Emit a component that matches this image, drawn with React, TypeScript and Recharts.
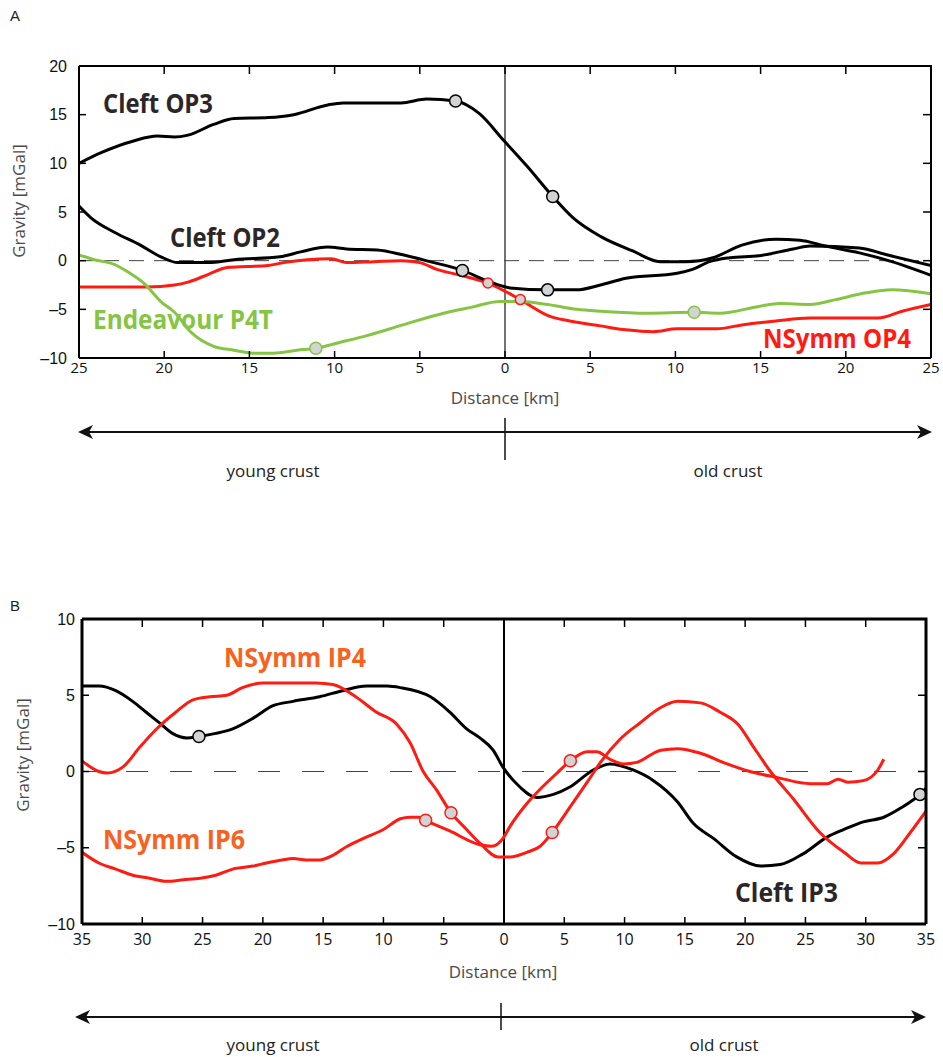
import React from "react";
import { ComposedChart, Line, XAxis, YAxis, ReferenceLine } from "recharts";

// panel A: distance in km (negative = young side, shown as positive on axis)
const A_X_TICKS = [-25, -20, -15, -10, -5, 0, 5, 10, 15, 20, 25];
const A_Y_TICKS = [-10, -5, 0, 5, 10, 15, 20];

const OP3_X = [-25, -23.7, -21.8, -20.4, -19.4, -18.6, -17.1, -15.9, -13.9, -12.4, -10.4, -9.5, -6.1, -4.6, -2.9, -1.5, -0.1, 1.3, 2.8, 4.0, 5.6, 7.5, 9.1, 10.6, 12.2, 13.9, 15.9, 17.3, 18.8, 20.8, 22.7, 25];
const OP3_Y = [10.0, 11.1, 12.3, 12.8, 12.7, 12.9, 14.0, 14.6, 14.7, 15.0, 16.0, 16.2, 16.2, 16.6, 16.4, 15.1, 12.4, 9.7, 6.6, 4.4, 2.5, 1.0, -0.1, -0.1, 0.3, 1.6, 2.2, 2.1, 1.5, 0.8, -0.1, -1.5];

const OP2_X = [-25, -24.3, -22.9, -21.4, -20.2, -19.2, -17.4, -15.9, -13.2, -12.0, -10.4, -9.3, -7.5, -6.0, -4.4, -2.5, -1.0, 0.3, 2.5, 4.2, 5.6, 7.1, 10.1, 11.0, 12.0, 13.2, 14.9, 16.9, 17.9, 20.8, 22.4, 25];
const OP2_Y = [5.6, 4.4, 2.9, 1.6, 0.4, -0.2, -0.2, 0.1, 0.4, 0.9, 1.4, 1.2, 1.1, 0.6, -0.1, -1.0, -2.1, -2.8, -3.0, -3.0, -2.5, -1.8, -1.3, -0.9, -0.1, 0.3, 0.5, 1.2, 1.5, 1.3, 0.6, -0.5];

const OP4_X = [-25, -21.0, -19.4, -18.6, -17.4, -16.3, -15.1, -13.9, -13.0, -11.6, -10.2, -9.3, -7.7, -6.1, -5.0, -4.0, -2.6, -1.0, 0.9, 2.6, 3.8, 5.6, 7.1, 8.7, 10.1, 12.4, 13.9, 15.9, 17.9, 21.9, 23.3, 25];
const OP4_Y = [-2.7, -2.7, -2.5, -2.2, -1.4, -0.7, -0.6, -0.5, -0.2, 0.1, 0.2, -0.2, -0.1, 0.0, -0.2, -0.9, -1.5, -2.3, -4.0, -5.7, -6.2, -6.7, -7.1, -7.3, -7.0, -7.0, -6.6, -6.2, -5.9, -5.9, -5.2, -4.5];

const P4T_X = [-25, -24.1, -22.9, -22.0, -21.2, -20.2, -19.4, -18.4, -17.1, -15.9, -14.8, -13.6, -12.2, -11.1, -9.7, -8.1, -6.0, -3.6, -2.0, -0.3, 0.9, 2.5, 4.2, 5.7, 8.3, 11.1, 12.6, 14.9, 16.1, 17.9, 19.4, 21.2, 22.7, 25];
const P4T_Y = [0.6, 0.1, -0.4, -1.3, -2.3, -4.2, -5.3, -7.4, -8.8, -9.2, -9.5, -9.5, -9.2, -9.0, -8.4, -7.7, -6.6, -5.4, -4.8, -4.2, -4.2, -4.5, -5.0, -5.2, -5.4, -5.3, -5.4, -4.7, -4.4, -4.5, -4.0, -3.3, -3.0, -3.4];

const OP3_MARK_X = [-2.9, 2.8];
const OP3_MARK_Y = [16.4, 6.6];
const OP2_MARK_X = [-2.5, 2.5];
const OP2_MARK_Y = [-1.0, -3.0];
const OP4_MARK_X = [-1.0, 0.9];
const OP4_MARK_Y = [-2.3, -4.0];
const P4T_MARK_X = [-11.1, 11.1];
const P4T_MARK_Y = [-9.0, -5.3];

// panel B
const B_X_TICKS = [-35, -30, -25, -20, -15, -10, -5, 0, 5, 10, 15, 20, 25, 30, 35];
const B_Y_TICKS = [-10, -5, 0, 5, 10];

const IP3_X = [-35, -33.6, -32.2, -30.8, -29.7, -28.6, -27.5, -26.3, -25.3, -23.9, -22.5, -20.8, -19.2, -17.5, -15.3, -13.4, -11.4, -9.7, -8.6, -6.1, -4.5, -3.1, -2.0, -0.9, -0.1, 1.3, 2.7, 4.1, 5.5, 7.4, 8.8, 10.7, 12.4, 14.4, 15.7, 17.4, 19.3, 21.3, 22.9, 24.8, 26.8, 28.2, 29.8, 31.5, 32.9, 34.5, 35];
const IP3_Y = [5.6, 5.6, 5.3, 4.6, 3.9, 3.2, 2.5, 2.2, 2.3, 2.5, 2.8, 3.5, 4.3, 4.6, 4.9, 5.3, 5.6, 5.6, 5.5, 4.9, 3.9, 2.8, 2.2, 1.4, 0.3, -1.0, -1.7, -1.5, -1.0, 0.1, 0.5, 0.1, -0.6, -2.0, -3.4, -4.4, -5.6, -6.2, -6.1, -5.4, -4.3, -3.8, -3.3, -3.0, -2.4, -1.5, -1.1];

const IP4_X = [-35, -33.6, -32.9, -31.6, -30.2, -28.8, -27.2, -25.8, -24.4, -23.0, -21.7, -20.0, -15.6, -14.2, -12.3, -10.6, -8.9, -7.8, -6.7, -5.6, -4.4, -3.1, -2.0, -0.5, 0.5, 1.9, 3.0, 4.0, 5.5, 6.9, 8.0, 9.6, 11.3, 13.0, 14.4, 16.3, 17.9, 19.4, 20.7, 22.1, 24.0, 26.2, 28.2, 29.6, 31.0, 32.3, 33.7, 35];
const IP4_Y = [0.7, 0.0, -0.1, 0.3, 1.6, 2.8, 3.9, 4.7, 4.9, 5.0, 5.5, 5.8, 5.8, 5.7, 4.9, 3.9, 3.1, 1.9, 0.0, -1.2, -2.7, -3.8, -4.7, -5.6, -5.6, -5.3, -4.9, -4.0, -2.3, -0.7, 0.6, 2.1, 3.2, 4.2, 4.6, 4.5, 3.9, 3.1, 1.6, 0.0, -1.8, -4.0, -5.3, -6.0, -6.0, -5.4, -4.0, -2.6];

const IP6_X = [-35, -33.6, -32.2, -30.8, -29.4, -28.0, -26.6, -25.2, -23.9, -22.5, -20.8, -19.7, -18.4, -17.5, -16.4, -15.3, -14.2, -13.0, -11.7, -10.0, -8.6, -7.8, -7.0, -6.5, -4.5, -2.0, -1.0, -0.1, 0.5, 1.9, 3.2, 4.4, 5.5, 6.9, 7.7, 8.8, 9.9, 11.0, 13.0, 14.4, 16.3, 18.5, 20.4, 22.7, 25.4, 26.8, 27.7, 28.5, 29.8, 31.0, 31.5];
const IP6_Y = [-5.3, -6.0, -6.4, -6.8, -7.0, -7.2, -7.1, -7.0, -6.8, -6.4, -6.2, -6.0, -5.8, -5.7, -5.8, -5.8, -5.5, -4.9, -4.4, -3.8, -3.1, -3.0, -3.0, -3.2, -3.9, -4.8, -4.9, -4.4, -3.6, -2.1, -1.0, -0.1, 0.7, 1.3, 1.3, 0.8, 0.5, 0.6, 1.4, 1.5, 1.2, 0.5, 0.0, -0.4, -0.8, -0.8, -0.5, -0.7, -0.6, 0.1, 0.8];

const IP3_MARK_X = [-25.3, 34.5];
const IP3_MARK_Y = [2.3, -1.5];
const IP4_MARK_X = [-4.4, 4.0];
const IP4_MARK_Y = [-2.7, -4.0];
const IP6_MARK_X = [-6.5, 5.5];
const IP6_MARK_Y = [-3.2, 0.7];

const BLACK = "#000000";
const RED = "#ff1a12";
const GREEN = "#86c544";
const DOT_FILL = "#d1d3d4";
const LABEL_DARK = "#2b2627";
const LABEL_ORANGE = "#f7621f";

// plot boxes (page pixels); chart margins are derived from these
const A_TOP = 0;
const A_H = 420;
const A_BOX = { left: 79, right: 931, top: 66, bottom: 358 };
const B_TOP = 560;
const B_H = 440;
const B_BOX = { left: 82, right: 926, top: 619, bottom: 924 };
const Y_AXIS_W = 44;

const zip = (xs: number[], ys: number[]) => xs.map((x, i) => ({ x, y: ys[i] }));
const absTick = (v: number) => String(Math.abs(v));
const dashTick = (v: number) => (v < 0 ? `\u2013${Math.abs(v)}` : String(v));

const tickFont = { fontSize: 16, fill: "#111", fontFamily: "Liberation Sans" };

function PanelA() {
  const xh = 30;
  return (
    <ComposedChart
      width={943}
      height={A_H}
      margin={{ top: A_BOX.top - A_TOP, right: 943 - A_BOX.right, left: A_BOX.left - Y_AXIS_W, bottom: A_TOP + A_H - A_BOX.bottom - xh }}
    >
      <XAxis
        dataKey="x"
        type="number"
        domain={[-25, 25]}
        allowDataOverflow
        ticks={A_X_TICKS}
        interval={0}
        tickFormatter={absTick}
        tickSize={-7}
        tickMargin={11}
        height={xh}
        tick={{ ...tickFont, fontFamily: "Open Sans", fontSize: 15 }}
        axisLine={{ stroke: BLACK, strokeWidth: 2 }}
        tickLine={{ stroke: BLACK, strokeWidth: 1.5 }}
      />
      <YAxis
        type="number"
        domain={[-10, 20]}
        allowDataOverflow
        ticks={A_Y_TICKS}
        interval={0}
        tickFormatter={dashTick}
        tickSize={-7}
        tickMargin={19}
        width={Y_AXIS_W}
        tick={tickFont}
        axisLine={{ stroke: BLACK, strokeWidth: 2 }}
        tickLine={{ stroke: BLACK, strokeWidth: 1.5 }}
      />
      <ReferenceLine y={0} stroke="#444" strokeWidth={1} strokeDasharray="15 10" />
      <ReferenceLine x={0} stroke="#444" strokeWidth={1.5} />
      <Line data={zip(OP4_X, OP4_Y)} dataKey="y" type="monotone" stroke={RED} strokeWidth={3} dot={false} activeDot={false} isAnimationActive={false} />
      <Line data={zip(P4T_X, P4T_Y)} dataKey="y" type="monotone" stroke={GREEN} strokeWidth={3} dot={false} activeDot={false} isAnimationActive={false} />
      <Line data={zip(OP2_X, OP2_Y)} dataKey="y" type="monotone" stroke={BLACK} strokeWidth={3} dot={false} activeDot={false} isAnimationActive={false} />
      <Line data={zip(OP3_X, OP3_Y)} dataKey="y" type="monotone" stroke={BLACK} strokeWidth={3} dot={false} activeDot={false} isAnimationActive={false} />
      <Line data={zip(OP3_MARK_X, OP3_MARK_Y)} dataKey="y" stroke="none" dot={{ r: 6, fill: DOT_FILL, stroke: BLACK, strokeWidth: 1.5 }} activeDot={false} isAnimationActive={false} />
      <Line data={zip(OP2_MARK_X, OP2_MARK_Y)} dataKey="y" stroke="none" dot={{ r: 6, fill: DOT_FILL, stroke: BLACK, strokeWidth: 1.5 }} activeDot={false} isAnimationActive={false} />
      <Line data={zip(OP4_MARK_X, OP4_MARK_Y)} dataKey="y" stroke="none" dot={{ r: 5, fill: DOT_FILL, stroke: RED, strokeWidth: 1.5 }} activeDot={false} isAnimationActive={false} />
      <Line data={zip(P4T_MARK_X, P4T_MARK_Y)} dataKey="y" stroke="none" dot={{ r: 6, fill: DOT_FILL, stroke: GREEN, strokeWidth: 1.5 }} activeDot={false} isAnimationActive={false} />
    </ComposedChart>
  );
}

function PanelB() {
  const xh = 40;
  return (
    <ComposedChart
      width={943}
      height={B_H}
      margin={{ top: B_BOX.top - B_TOP, right: 943 - B_BOX.right, left: B_BOX.left - Y_AXIS_W, bottom: B_TOP + B_H - B_BOX.bottom - xh }}
    >
      <XAxis
        dataKey="x"
        type="number"
        domain={[-35, 35]}
        allowDataOverflow
        ticks={B_X_TICKS}
        interval={0}
        tickFormatter={absTick}
        tickSize={-7}
        tickMargin={17}
        height={xh}
        tick={{ ...tickFont, fontFamily: "Open Sans", fontSize: 16 }}
        axisLine={{ stroke: BLACK, strokeWidth: 3 }}
        tickLine={{ stroke: BLACK, strokeWidth: 1.5 }}
      />
      <YAxis
        type="number"
        domain={[-10, 10]}
        allowDataOverflow
        ticks={B_Y_TICKS}
        interval={0}
        tickFormatter={dashTick}
        tickSize={-7}
        tickMargin={14}
        width={Y_AXIS_W}
        tick={tickFont}
        axisLine={{ stroke: BLACK, strokeWidth: 3 }}
        tickLine={{ stroke: BLACK, strokeWidth: 1.5 }}
      />
      <ReferenceLine y={0} stroke="#444" strokeWidth={1} strokeDasharray="22 22" />
      <ReferenceLine x={0} stroke={BLACK} strokeWidth={2} />
      <Line data={zip(IP3_X, IP3_Y)} dataKey="y" type="monotone" stroke={BLACK} strokeWidth={3} dot={false} activeDot={false} isAnimationActive={false} />
      <Line data={zip(IP6_X, IP6_Y)} dataKey="y" type="monotone" stroke={RED} strokeWidth={3} dot={false} activeDot={false} isAnimationActive={false} />
      <Line data={zip(IP4_X, IP4_Y)} dataKey="y" type="monotone" stroke={RED} strokeWidth={3} dot={false} activeDot={false} isAnimationActive={false} />
      <Line data={zip(IP3_MARK_X, IP3_MARK_Y)} dataKey="y" stroke="none" dot={{ r: 6, fill: DOT_FILL, stroke: BLACK, strokeWidth: 1.5 }} activeDot={false} isAnimationActive={false} />
      <Line data={zip(IP4_MARK_X, IP4_MARK_Y)} dataKey="y" stroke="none" dot={{ r: 6, fill: DOT_FILL, stroke: RED, strokeWidth: 1.5 }} activeDot={false} isAnimationActive={false} />
      <Line data={zip(IP6_MARK_X, IP6_MARK_Y)} dataKey="y" stroke="none" dot={{ r: 6, fill: DOT_FILL, stroke: RED, strokeWidth: 1.5 }} activeDot={false} isAnimationActive={false} />
    </ComposedChart>
  );
}

// top and right edges of a plot box, with short inward ticks at the axis tick values
function BoxEdges({ box, xTicks, yTicks, xDom, yDom, w }: any) {
  const sx = (v: number) => box.left + ((v - xDom[0]) / (xDom[1] - xDom[0])) * (box.right - box.left);
  const sy = (v: number) => box.bottom - ((v - yDom[0]) / (yDom[1] - yDom[0])) * (box.bottom - box.top);
  return (
    <g>
      <path
        d={`M${box.left},${box.top} L${box.right},${box.top} L${box.right},${box.bottom}`}
        fill="none"
        stroke="#000"
        strokeWidth={w}
        strokeLinejoin="miter"
      />
      {xTicks.slice(1, -1).map((t: number) => (
        <line key={`x${t}`} x1={sx(t)} x2={sx(t)} y1={box.top} y2={box.top + 8} stroke="#000" strokeWidth={1.5} />
      ))}
      {yTicks.slice(1, -1).map((t: number) => (
        <line key={`y${t}`} x1={box.right} x2={box.right - 8} y1={sy(t)} y2={sy(t)} stroke="#000" strokeWidth={1.5} />
      ))}
    </g>
  );
}

// double-headed arrow with a centre tick, plus crust captions
function CrustArrow({ y, x1, x2, mid, tickTop, tickBottom, textY, youngX, oldX }: any) {
  return (
    <g>
      <line x1={x1 + 8} x2={x2 - 8} y1={y} y2={y} stroke="#111" strokeWidth={2} />
      <polygon points={`${x1},${y} ${x1 + 15},${y - 7} ${x1 + 11},${y} ${x1 + 15},${y + 7}`} fill="#111" />
      <polygon points={`${x2},${y} ${x2 - 15},${y - 7} ${x2 - 11},${y} ${x2 - 15},${y + 7}`} fill="#111" />
      <line x1={mid} x2={mid} y1={tickTop} y2={tickBottom} stroke="#111" strokeWidth={1.5} />
      <text x={youngX} y={textY} textAnchor="middle" fontSize={17} fontFamily="Open Sans" fill="#222">young crust</text>
      <text x={oldX} y={textY} textAnchor="middle" fontSize={17} fontFamily="Open Sans" fill="#222">old crust</text>
    </g>
  );
}

function SeriesLabel({ x, y, w, color, children }: any) {
  return (
    <text x={x} y={y} textLength={w} lengthAdjust="spacingAndGlyphs" fontSize={27} fontWeight={700} fontFamily="Open Sans" fill={color}>
      {children}
    </text>
  );
}

export default function App() {
  return (
    <div style={{ position: "absolute", left: 0, top: 0, width: 943, height: 1057, background: "#fff" }}>
      <div style={{ position: "absolute", left: 0, top: A_TOP }}>
        <PanelA />
      </div>
      <div style={{ position: "absolute", left: 0, top: B_TOP }}>
        <PanelB />
      </div>
      <svg width={943} height={1057} style={{ position: "absolute", left: 0, top: 0, pointerEvents: "none" }}>
        <BoxEdges box={A_BOX} xTicks={A_X_TICKS} yTicks={A_Y_TICKS} xDom={[-25, 25]} yDom={[-10, 20]} w={2} />
        <BoxEdges box={B_BOX} xTicks={B_X_TICKS} yTicks={B_Y_TICKS} xDom={[-35, 35]} yDom={[-10, 10]} w={3} />

        <text x={10} y={21} fontSize={15} fontFamily="Liberation Sans" fill="#222">A</text>
        <text x={10} y={611} fontSize={15} fontFamily="Liberation Sans" fill="#222">B</text>

        <text transform="translate(25,201) rotate(-90)" textAnchor="middle" fontSize={17} fontFamily="Open Sans" fill="#4a4a4a">Gravity [mGal]</text>
        <text transform="translate(29,755) rotate(-90)" textAnchor="middle" fontSize={17} fontFamily="Open Sans" fill="#4a4a4a">Gravity [mGal]</text>
        <text x={505} y={404} textAnchor="middle" fontSize={17} fontFamily="Open Sans" fill="#4a4a4a">Distance [km]</text>
        <text x={503} y={978} textAnchor="middle" fontSize={17} fontFamily="Open Sans" fill="#4a4a4a">Distance [km]</text>

        <SeriesLabel x={103} y={113} w={110} color={LABEL_DARK}>Cleft OP3</SeriesLabel>
        <SeriesLabel x={170} y={247} w={110} color={LABEL_DARK}>Cleft OP2</SeriesLabel>
        <SeriesLabel x={93} y={329} w={180} color={GREEN}>Endeavour P4T</SeriesLabel>
        <SeriesLabel x={763} y={348} w={148} color={RED}>NSymm OP4</SeriesLabel>
        <SeriesLabel x={224} y={667} w={142} color={LABEL_ORANGE}>NSymm IP4</SeriesLabel>
        <SeriesLabel x={103} y={849} w={142} color={LABEL_ORANGE}>NSymm IP6</SeriesLabel>
        <SeriesLabel x={735} y={902} w={103} color={LABEL_DARK}>Cleft IP3</SeriesLabel>

        <CrustArrow y={432} x1={78} x2={932} mid={505} tickTop={418} tickBottom={460} textY={477} youngX={273} oldX={728} />
        <CrustArrow y={1017} x1={75} x2={926} mid={501} tickTop={1003} tickBottom={1030} textY={1051} youngX={273} oldX={724} />
      </svg>
    </div>
  );
}
